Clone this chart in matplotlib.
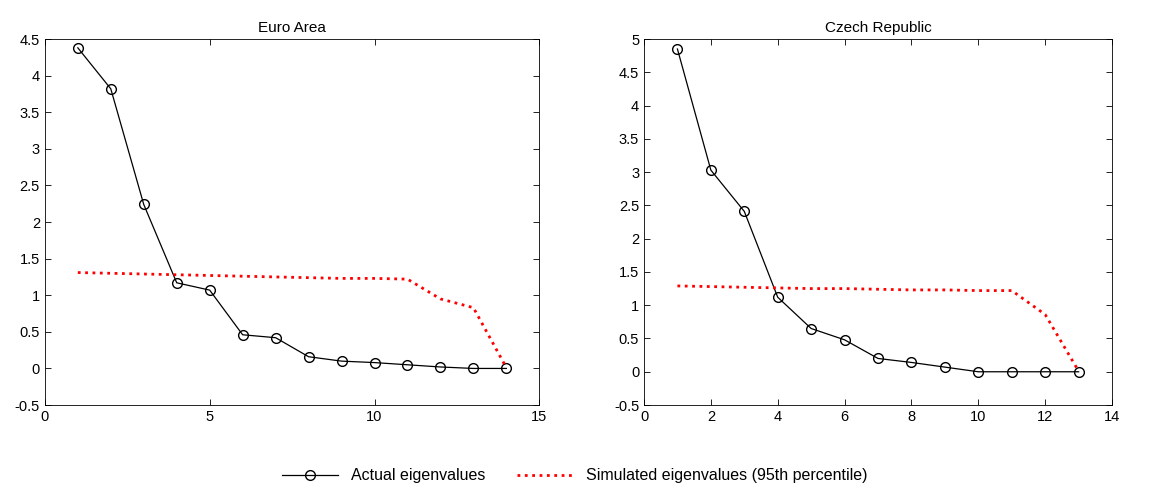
import matplotlib
matplotlib.use("Agg")
import matplotlib.pyplot as plt
import numpy as np

ea_actual = [4.38, 3.82, 2.24, 1.17, 1.07, 0.46, 0.42, 0.16, 0.10, 0.08, 0.05, 0.02, 0.00, 0.00]
ea_sim = [1.31, 1.30, 1.29, 1.28, 1.27, 1.26, 1.25, 1.24, 1.23, 1.23, 1.22, 0.95, 0.83, 0.01]
cz_actual = [4.85, 3.03, 2.41, 1.12, 0.65, 0.48, 0.20, 0.14, 0.07, 0.00, 0.00, 0.00, 0.00]
cz_sim = [1.29, 1.28, 1.27, 1.26, 1.25, 1.25, 1.24, 1.23, 1.23, 1.22, 1.22, 0.86, 0.01]

plt.rcParams['font.family'] = ['Liberation Sans', 'DejaVu Sans']
plt.rcParams['font.size'] = 10.5
fig = plt.figure(figsize=(11.5, 4.88), dpi=100)
ax1 = fig.add_axes([0.039, 0.170, 0.430, 0.750])
ax2 = fig.add_axes([0.560, 0.170, 0.407, 0.750])

def draw(ax, act, sim, title, xlim, xticks, ylim, yticks):
    x = np.arange(1, len(act) + 1)
    l1, = ax.plot(x, act, 'k-', marker='o', mfc='none', ms=7, lw=0.9, label='Actual eigenvalues')
    l2, = ax.plot(x, sim, color='#ff0000', ls=':', lw=2, label='Simulated eigenvalues (95th percentile)')
    ax.set_xlim(*xlim); ax.set_xticks(xticks)
    ax.set_ylim(*ylim); ax.set_yticks(yticks)
    ax.set_yticklabels([f"{v:g}" for v in yticks])
    ax.set_title(title, fontsize=11, pad=5)
    ax.tick_params(direction='in', top=True, right=True, length=4, width=0.6)
    for s in ax.spines.values():
        s.set_linewidth(0.6)
    return l1, l2

l1, l2 = draw(ax1, ea_actual, ea_sim, 'Euro Area', (0, 15), [0, 5, 10, 15], (-0.5, 4.5), np.arange(-0.5, 4.51, 0.5))
draw(ax2, cz_actual, cz_sim, 'Czech Republic', (0, 14), list(range(0, 15, 2)), (-0.5, 5), np.arange(-0.5, 5.01, 0.5))

fig.legend([l1, l2], [l1.get_label(), l2.get_label()], loc='center', bbox_to_anchor=(0.5, 0.025),
           ncol=2, frameon=False, fontsize=11.5, handlelength=3.5, columnspacing=2)
fig.savefig('out.png', dpi=100)
